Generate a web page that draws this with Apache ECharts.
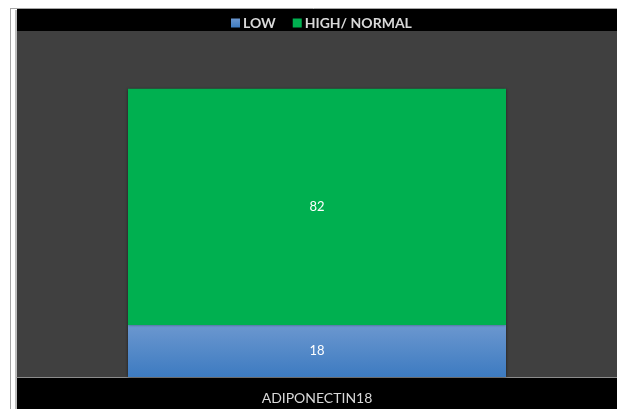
<!DOCTYPE html>
<html>
<head>
<meta charset="utf-8">
<script src="https://cdn.jsdelivr.net/npm/echarts@6/dist/echarts.min.js"></script>
<style>html,body{margin:0;padding:0;background:#fff;}#c{width:617px;height:409px;}</style>
</head>
<body>
<div id="c"></div>
<script>
const categories = ['ADIPONECTIN18'];
const lowValues = [18];
const highNormalValues = [82];
const seriesNames = ['LOW', 'HIGH/ NORMAL'];

const chart = echarts.init(document.getElementById('c'), null, {renderer: 'canvas'});
const font = 'Lato, "Open Sans", sans-serif';
chart.setOption({
  backgroundColor: '#ffffff',
  animation: false,
  graphic: [
    {type: 'rect', z: -10, shape: {x: 17, y: 9, width: 600, height: 400}, style: {fill: '#000000'}},
    {type: 'line', z: -10, shape: {x1: 10.5, y1: 8, x2: 10.5, y2: 409}, style: {stroke: '#a6a6a6', lineWidth: 1}},
    {type: 'line', z: -10, shape: {x1: 10, y1: 8.5, x2: 617, y2: 8.5}, style: {stroke: '#a6a6a6', lineWidth: 1}},
    {type: 'line', z: -10, shape: {x1: 16, y1: 10, x2: 16, y2: 409}, style: {stroke: '#7f7f7f', lineWidth: 1}}
  ],
  legend: {
    data: seriesNames,
    top: 11,
    left: 226,
    itemWidth: 9,
    itemHeight: 9,
    itemGap: 17,
    icon: 'rect',
    textStyle: {color: '#d9d9d9', fontSize: 14, fontWeight: 'bold', fontFamily: font, padding: [0, 0, 0, -2]}
  },
  grid: {left: 17, right: 0, top: 31, bottom: 32, show: true, backgroundColor: '#404040', borderWidth: 0},
  xAxis: {
    type: 'category',
    data: categories,
    axisLine: {show: true, lineStyle: {color: '#8c8c8c', width: 1}},
    axisTick: {show: false},
    axisLabel: {color: '#d9d9d9', fontSize: 14, fontFamily: font, margin: 14}
  },
  yAxis: {
    type: 'value',
    min: 0,
    max: 120,
    show: false,
    splitLine: {show: false}
  },
  series: [
    {
      name: seriesNames[0],
      type: 'bar',
      stack: 'total',
      data: lowValues,
      barWidth: '63%',
      itemStyle: {
        color: new echarts.graphic.LinearGradient(0, 0, 0, 1, [
          {offset: 0, color: '#6b97cf'},
          {offset: 1, color: '#3d7bc1'}
        ]),
        shadowColor: 'rgba(0,0,0,0.6)',
        shadowBlur: 3
      },
      label: {show: true, position: 'inside', color: '#ffffff', fontSize: 13, fontFamily: font}
    },
    {
      name: seriesNames[1],
      type: 'bar',
      stack: 'total',
      data: highNormalValues,
      barWidth: '63%',
      itemStyle: {
        color: '#00b050',
        shadowColor: 'rgba(0,0,0,0.6)',
        shadowBlur: 3
      },
      label: {show: true, position: 'inside', color: '#ffffff', fontSize: 13, fontFamily: font}
    }
  ]
});
</script>
</body>
</html>
